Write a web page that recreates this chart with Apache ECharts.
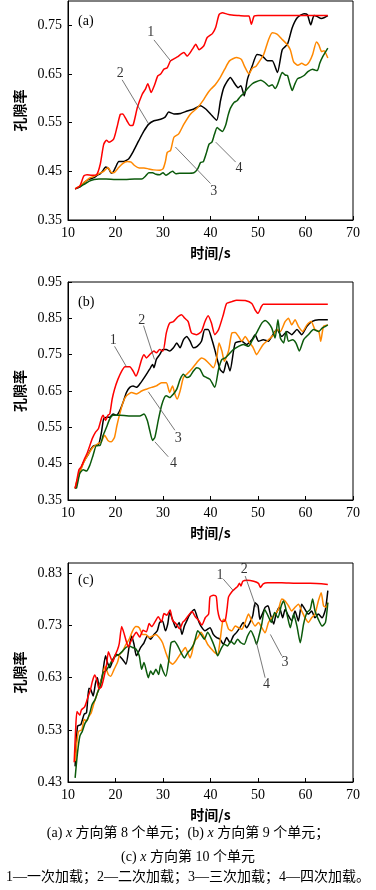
<!DOCTYPE html>
<html>
<head>
<meta charset="utf-8">
<script src="https://cdn.jsdelivr.net/npm/echarts@6/dist/echarts.min.js"></script>
<style>
  html, body { margin: 0; padding: 0; background: #fff; }
  #main { width: 376px; height: 890px; }
</style>
</head>
<body>
<div id="main"></div>
<script>
// tick values
var yTicksA = [0.35, 0.45, 0.55, 0.65, 0.75];
var yTicksB = [0.35, 0.45, 0.55, 0.65, 0.75, 0.85, 0.95];
var yTicksC = [0.43, 0.53, 0.63, 0.73, 0.83];

// (a) x 方向第 8 个单元   [time s, porosity]
var redA = [[11.5,0.414],[12.5,0.42],[13.3,0.44],[14,0.443],[15,0.442],[16,0.443],[16.8,0.465],[17.5,0.505],[18.1,0.514],[18.6,0.51],[19.6,0.516],[20.3,0.54],[21,0.567],[21.5,0.568],[22.4,0.554],[23.1,0.544],[23.7,0.545],[24.6,0.581],[25.6,0.608],[26.3,0.619],[26.8,0.63],[27.5,0.612],[28.2,0.627],[28.9,0.646],[29.5,0.65],[30.2,0.66],[30.9,0.663],[31.6,0.677],[33,0.685],[34.4,0.694],[35.1,0.687],[36.2,0.701],[36.9,0.711],[37.6,0.70],[38.6,0.708],[39.3,0.725],[40.4,0.733],[41.1,0.746],[41.8,0.772],[42.5,0.776],[43.5,0.773],[44.5,0.771],[46,0.770],[47.5,0.769],[48.1,0.769],[48.6,0.752],[49.2,0.769],[50,0.770],[52,0.770],[55,0.770],[58,0.770],[61,0.770],[64.7,0.770]];
var blackA = [[11.5,0.414],[12.5,0.418],[13.5,0.428],[14.5,0.434],[15.5,0.437],[16.2,0.442],[16.8,0.445],[17.4,0.452],[17.9,0.459],[18.6,0.455],[19.1,0.446],[19.6,0.45],[20,0.458],[20.7,0.47],[21.7,0.47],[22.8,0.476],[23.8,0.492],[24.9,0.513],[26,0.533],[27,0.547],[28.1,0.554],[29.5,0.557],[30.5,0.562],[31.2,0.572],[32.3,0.568],[33.7,0.569],[35.1,0.574],[36.5,0.578],[37.9,0.585],[39,0.578],[40,0.568],[41.3,0.555],[42.1,0.595],[42.8,0.622],[44.2,0.643],[44.9,0.633],[45.8,0.622],[46.4,0.626],[47.1,0.605],[47.8,0.64],[48.8,0.667],[49.8,0.69],[50.9,0.687],[52,0.677],[53,0.677],[54.1,0.653],[55.1,0.70],[56.2,0.711],[57.2,0.745],[58.3,0.766],[59.7,0.774],[60.4,0.772],[61.1,0.751],[61.8,0.77],[62.5,0.768],[63.3,0.764],[64,0.766],[64.7,0.77]];
var orangeA = [[11.5,0.414],[12.5,0.42],[13.5,0.428],[14.5,0.436],[15.5,0.44],[16.5,0.445],[17.5,0.45],[18.4,0.458],[19.2,0.447],[19.8,0.448],[20.5,0.456],[21.5,0.466],[22.5,0.47],[23.3,0.469],[24,0.462],[25,0.457],[26,0.457],[27,0.455],[28,0.453],[29.2,0.452],[30,0.455],[30.5,0.47],[30.9,0.489],[31.6,0.493],[32.3,0.52],[33.3,0.527],[34.4,0.547],[35.8,0.568],[37.2,0.58],[38.6,0.598],[39.5,0.612],[40.2,0.62],[41,0.628],[42,0.642],[43,0.66],[44,0.677],[45.5,0.684],[46.5,0.68],[47.2,0.665],[48.1,0.65],[48.8,0.662],[49.6,0.666],[50.3,0.676],[51.2,0.69],[52.2,0.72],[53,0.735],[54,0.732],[55,0.722],[56,0.712],[56.8,0.70],[57.5,0.675],[58.4,0.668],[59.2,0.672],[60,0.668],[60.8,0.675],[61.5,0.69],[62.3,0.716],[62.8,0.71],[63.4,0.696],[63.9,0.698],[64.7,0.683]];
var greenA = [[11.5,0.414],[12.5,0.418],[13.5,0.424],[14.5,0.43],[15.5,0.433],[16.5,0.434],[18,0.434],[20,0.433],[22,0.433],[24,0.434],[25.5,0.434],[26.3,0.44],[27,0.447],[27.8,0.447],[28.5,0.444],[29.3,0.443],[30,0.447],[30.6,0.442],[31.3,0.446],[32,0.45],[32.7,0.445],[33.5,0.446],[35,0.446],[36.5,0.447],[37.3,0.455],[37.9,0.468],[38.5,0.47],[39.2,0.49],[39.7,0.506],[40.3,0.51],[40.8,0.525],[41.4,0.54],[42,0.535],[42.5,0.532],[43.2,0.545],[43.7,0.565],[44.2,0.58],[45,0.592],[45.6,0.595],[46.3,0.604],[47,0.61],[47.8,0.62],[48.8,0.63],[49.6,0.634],[50.6,0.637],[51.5,0.632],[52.3,0.625],[53,0.628],[53.6,0.62],[54.1,0.628],[54.6,0.642],[55.1,0.653],[55.7,0.648],[56.2,0.647],[56.7,0.63],[57.2,0.616],[57.7,0.628],[58.3,0.64],[59,0.643],[59.7,0.647],[60.5,0.655],[61.5,0.66],[62,0.658],[62.5,0.657],[63,0.672],[63.6,0.685],[64.7,0.703]];

// (b) x 方向第 9 个单元
var redB = [[11.5,0.382],[11.8,0.40],[12.3,0.433],[12.8,0.442],[13.5,0.464],[14,0.478],[14.6,0.50],[15.1,0.519],[15.8,0.537],[16.4,0.546],[17,0.573],[17.4,0.583],[17.9,0.569],[18.4,0.583],[18.8,0.587],[19.3,0.628],[19.8,0.655],[20.5,0.682],[21.3,0.705],[22,0.717],[23,0.717],[23.7,0.705],[24.3,0.691],[24.8,0.705],[25.5,0.737],[26,0.75],[26.5,0.741],[27.2,0.75],[28.1,0.76],[28.6,0.755],[29.3,0.764],[30,0.76],[30.7,0.81],[31.4,0.837],[32.2,0.841],[33.2,0.855],[33.9,0.86],[34.6,0.85],[35.3,0.841],[36,0.81],[37.1,0.805],[38.1,0.814],[38.8,0.84],[39.5,0.857],[40.2,0.837],[40.9,0.805],[41.7,0.819],[42.7,0.86],[43.4,0.891],[44.5,0.896],[45.5,0.90],[47.3,0.899],[48.7,0.891],[49.4,0.873],[50,0.864],[50.7,0.882],[51.1,0.889],[55,0.889],[60,0.889],[64.7,0.889]];
var blackB = [[11.5,0.382],[11.8,0.396],[12.5,0.428],[13,0.446],[13.5,0.46],[14.2,0.474],[14.9,0.492],[15.6,0.50],[16.3,0.50],[17,0.533],[17.5,0.573],[18.1,0.578],[18.8,0.578],[19.5,0.587],[20.2,0.583],[20.9,0.596],[21.6,0.619],[22.3,0.646],[23,0.66],[23.7,0.664],[24.4,0.66],[25.1,0.669],[25.8,0.682],[26.5,0.696],[27.2,0.71],[27.8,0.723],[28.1,0.714],[28.6,0.737],[29.3,0.75],[30,0.764],[30.7,0.764],[31.4,0.76],[32.2,0.769],[32.9,0.782],[33.6,0.769],[34.3,0.791],[35,0.80],[35.7,0.787],[36.4,0.769],[37.2,0.773],[38.1,0.787],[38.8,0.819],[39.5,0.819],[40.2,0.796],[40.9,0.764],[42,0.71],[42.7,0.70],[43.4,0.732],[44.1,0.705],[45.2,0.782],[46.6,0.787],[47.6,0.778],[48.7,0.791],[49.4,0.805],[50.1,0.787],[51.1,0.791],[52.2,0.787],[52.9,0.80],[54,0.819],[55,0.80],[56.1,0.814],[57.1,0.805],[58.2,0.819],[59.2,0.805],[60.3,0.828],[61.3,0.841],[62.8,0.846],[64.7,0.846]];
var orangeB = [[11.5,0.382],[11.8,0.40],[13.2,0.45],[14.2,0.474],[15.3,0.496],[16.3,0.505],[17,0.51],[17.7,0.528],[18.4,0.514],[19.1,0.51],[19.8,0.523],[20.3,0.555],[20.9,0.587],[21.6,0.619],[22.3,0.637],[23.4,0.646],[24.4,0.642],[25.5,0.65],[26.5,0.655],[27.6,0.66],[28.6,0.664],[29.7,0.673],[30.7,0.673],[31.4,0.646],[32,0.664],[32.5,0.642],[33,0.628],[33.6,0.65],[34.3,0.687],[35,0.696],[36,0.71],[37.1,0.728],[38.1,0.741],[38.8,0.737],[39.9,0.723],[40.6,0.714],[41.3,0.741],[41.8,0.782],[42.4,0.76],[42.9,0.732],[43.8,0.76],[44.5,0.81],[45.2,0.811],[45.9,0.80],[46.6,0.787],[47.3,0.80],[48,0.787],[49,0.769],[49.7,0.75],[50.4,0.764],[51.1,0.778],[52.2,0.791],[53.3,0.805],[54,0.819],[54.7,0.814],[55.7,0.841],[56.4,0.85],[57.1,0.832],[57.8,0.846],[58.5,0.828],[59.4,0.814],[60.3,0.832],[61.2,0.841],[62,0.819],[62.8,0.814],[63.2,0.787],[63.8,0.828],[64.7,0.832]];
var greenB = [[11.5,0.382],[11.8,0.383],[12.5,0.424],[13.2,0.433],[13.9,0.43],[14.6,0.446],[15.3,0.474],[16,0.50],[16.7,0.50],[17.4,0.528],[18.1,0.55],[18.8,0.573],[19.5,0.583],[20.9,0.583],[23.7,0.581],[25.1,0.581],[26,0.587],[26.7,0.569],[27.2,0.542],[27.8,0.514],[28.3,0.523],[29,0.569],[29.7,0.61],[30.3,0.632],[30.7,0.637],[31.4,0.632],[32.2,0.642],[32.9,0.655],[33.6,0.682],[34.3,0.696],[35,0.687],[35.7,0.691],[36.4,0.705],[37.1,0.714],[37.8,0.71],[38.5,0.692],[39.2,0.687],[39.9,0.682],[40.9,0.66],[41.7,0.71],[42.4,0.737],[43.1,0.741],[43.8,0.75],[44.8,0.764],[45.9,0.773],[46.9,0.778],[48,0.773],[48.7,0.787],[49.7,0.81],[50.8,0.837],[51.5,0.844],[52.2,0.837],[52.9,0.823],[53.6,0.796],[54.2,0.846],[54.7,0.796],[55.4,0.782],[55.9,0.814],[56.4,0.787],[57.3,0.791],[58,0.782],[58.7,0.76],[59.6,0.791],[60.6,0.805],[61.7,0.819],[62.8,0.814],[63.5,0.823],[64.2,0.828],[64.7,0.832]];

// (c) x 方向第 10 个单元
var redC = [[11.3,0.468],[11.6,0.53],[11.9,0.565],[12.5,0.558],[12.8,0.568],[13.5,0.574],[13.9,0.584],[14.2,0.593],[14.7,0.606],[15.1,0.622],[15.6,0.635],[16.1,0.625],[16.5,0.609],[17,0.612],[17.5,0.628],[18.1,0.654],[18.5,0.68],[18.8,0.673],[19.4,0.66],[19.9,0.673],[20.4,0.683],[20.8,0.696],[21.3,0.728],[21.8,0.715],[22.2,0.702],[22.7,0.689],[23.2,0.699],[23.7,0.708],[24.4,0.717],[25.1,0.708],[25.8,0.721],[26.5,0.718],[27.1,0.734],[27.6,0.728],[28.3,0.737],[29,0.747],[29.7,0.737],[30.2,0.753],[30.8,0.75],[31.5,0.76],[32,0.74],[32.7,0.734],[33.5,0.724],[34.2,0.737],[34.6,0.74],[35.4,0.75],[36.1,0.757],[36.8,0.747],[37.5,0.74],[38.2,0.731],[38.9,0.745],[39.6,0.752],[39.9,0.785],[40.6,0.788],[41.2,0.786],[41.5,0.76],[41.9,0.744],[42.4,0.738],[43.1,0.74],[43.5,0.763],[43.8,0.785],[44.5,0.795],[45.2,0.801],[45.7,0.805],[46.1,0.811],[46.4,0.806],[46.8,0.815],[47.7,0.817],[49.1,0.815],[50.1,0.811],[50.5,0.803],[51.1,0.81],[52,0.812],[55,0.812],[58,0.811],[61,0.811],[64.7,0.809]];
var blackC = [[11.5,0.46],[12,0.537],[12.7,0.54],[13.4,0.56],[13.9,0.563],[14.4,0.61],[14.8,0.607],[15.3,0.595],[15.8,0.62],[16.2,0.63],[16.5,0.614],[17.2,0.633],[17.9,0.672],[18.3,0.659],[18.8,0.649],[19.4,0.662],[20.1,0.675],[20.8,0.672],[21.5,0.665],[22.2,0.656],[22.9,0.691],[23.4,0.71],[23.9,0.694],[24.4,0.672],[25.3,0.688],[26,0.697],[26.7,0.71],[27.4,0.704],[28.1,0.713],[28.8,0.72],[29.3,0.736],[29.9,0.739],[30.5,0.72],[31,0.733],[31.4,0.755],[32,0.742],[32.7,0.726],[33.4,0.736],[34,0.713],[34.5,0.729],[35,0.739],[35.5,0.749],[36.2,0.758],[36.6,0.761],[37.1,0.749],[37.6,0.736],[38.2,0.726],[38.8,0.72],[39.9,0.726],[40.6,0.713],[41.3,0.707],[42,0.704],[42.7,0.694],[43.4,0.707],[44.1,0.697],[44.8,0.71],[45.5,0.717],[46.2,0.726],[46.9,0.736],[47.6,0.726],[48.3,0.736],[48.9,0.749],[49.4,0.774],[50,0.768],[50.4,0.742],[50.9,0.752],[51.5,0.765],[52.1,0.768],[52.6,0.752],[53.3,0.733],[53.8,0.752],[54.5,0.765],[55.2,0.745],[55.7,0.761],[56.4,0.749],[57.1,0.739],[57.8,0.758],[58.5,0.739],[59.2,0.771],[59.9,0.761],[60.6,0.752],[61.3,0.758],[62,0.745],[62.7,0.752],[63.5,0.745],[64.2,0.761],[64.7,0.797]];
var orangeC = [[11.5,0.47],[11.8,0.50],[12.2,0.527],[12.9,0.53],[13.4,0.55],[13.9,0.547],[14.4,0.556],[14.9,0.563],[15.5,0.582],[16,0.595],[16.5,0.61],[17.1,0.627],[17.8,0.652],[18.5,0.636],[19,0.633],[19.7,0.646],[20.4,0.659],[20.9,0.675],[21.5,0.681],[22.2,0.694],[22.9,0.704],[23.6,0.72],[24.3,0.728],[25,0.726],[25.7,0.713],[26.4,0.713],[27.1,0.707],[27.8,0.71],[28.5,0.713],[29.2,0.707],[29.9,0.697],[30.6,0.678],[31.3,0.662],[32,0.656],[32.7,0.662],[33.4,0.672],[34.1,0.681],[34.7,0.688],[35.2,0.678],[35.7,0.668],[36.1,0.678],[36.6,0.70],[37.3,0.707],[38,0.717],[38.7,0.707],[39.4,0.694],[40.2,0.685],[40.9,0.678],[41.5,0.675],[42,0.70],[42.4,0.729],[42.7,0.742],[43.2,0.739],[43.8,0.723],[44.5,0.72],[45.2,0.729],[45.9,0.726],[46.6,0.723],[47.3,0.736],[48,0.752],[48.7,0.739],[49.4,0.729],[50.1,0.736],[50.8,0.726],[51.5,0.716],[52.2,0.736],[52.9,0.745],[53.6,0.752],[54.3,0.761],[55,0.781],[55.7,0.777],[56.4,0.768],[57.1,0.758],[57.8,0.765],[58.5,0.771],[59.2,0.758],[59.9,0.745],[60.6,0.736],[61.3,0.745],[62,0.752],[62.7,0.777],[63.3,0.793],[63.8,0.768],[64.3,0.765],[64.7,0.774]];
var greenC = [[11.5,0.438],[12,0.486],[12.5,0.518],[13,0.527],[13.6,0.543],[14.1,0.55],[14.6,0.563],[15.1,0.579],[15.7,0.588],[16.2,0.601],[16.9,0.617],[17.4,0.64],[17.9,0.643],[18.6,0.652],[19.4,0.665],[20.1,0.672],[20.8,0.675],[21.5,0.681],[22.2,0.688],[22.9,0.691],[23.6,0.688],[24.3,0.685],[25,0.672],[25.5,0.646],[26,0.659],[26.5,0.643],[26.9,0.63],[27.4,0.643],[27.9,0.636],[28.5,0.646],[29.1,0.636],[29.5,0.656],[30,0.643],[30.6,0.633],[31.2,0.662],[31.7,0.697],[32.4,0.70],[33.1,0.691],[33.8,0.678],[34.5,0.668],[35.2,0.678],[35.9,0.685],[36.6,0.697],[37.3,0.72],[38,0.713],[38.7,0.704],[39.4,0.717],[40.2,0.704],[40.9,0.688],[41.5,0.672],[42.2,0.685],[42.9,0.694],[43.6,0.691],[44.3,0.70],[45,0.694],[45.7,0.704],[46.4,0.697],[47.1,0.694],[47.8,0.71],[48.5,0.72],[49.2,0.707],[49.7,0.694],[50.2,0.71],[50.8,0.733],[51.4,0.761],[52.1,0.749],[52.8,0.736],[53.5,0.755],[54.2,0.745],[54.9,0.768],[55.4,0.777],[56.1,0.752],[56.8,0.726],[57.5,0.752],[58.2,0.729],[58.9,0.697],[59.6,0.733],[60.3,0.755],[61,0.761],[61.5,0.781],[62,0.758],[62.7,0.742],[63.5,0.729],[64.2,0.736],[64.7,0.774]];

// curve labels: [text, label t, label v, leader from t, v, leader to t, v]
var annA = [['1',27.4,0.735,28.1,0.72,31.6,0.677],['2',21.0,0.652,21.4,0.638,27.0,0.547],['3',40.7,0.408,40.0,0.425,32.6,0.50],['4',46.0,0.456,45.3,0.469,41.1,0.51]];
var annB = [['1',19.5,0.79,19.8,0.773,22.3,0.717],['2',25.5,0.845,25.9,0.83,28.2,0.737],['3',33.2,0.519,32.5,0.542,26.9,0.648],['4',32.2,0.45,31.1,0.469,28.3,0.51]];
var annC = [['1',42.0,0.826,42.7,0.819,44.8,0.797],['2',47.1,0.837,47.3,0.825,49.6,0.765],['3',55.7,0.659,55.0,0.672,52.6,0.713],['4',51.8,0.617,51.5,0.63,49.6,0.70]];

var colors = ['#ff0000', '#000000', '#ff8800', '#0b5a0b'];
var serif = '"Liberation Serif", "Times New Roman", serif';
var cjk = '"Liberation Serif", "Noto Sans CJK SC", sans-serif';

var panels = [
    { lines: [redA, blackA, orangeA, greenA], ticks: yTicksA, min: 0.35, max: 0.80, ann: annA, tag: '(a)', top: 1, height: 219, tagTop: 9 },
    { lines: [redB, blackB, orangeB, greenB], ticks: yTicksB, min: 0.35, max: 0.95, ann: annB, tag: '(b)', top: 282, height: 218, tagTop: 290 },
    { lines: [redC, blackC, orangeC, greenC], ticks: yTicksC, min: 0.43, max: 0.85, ann: annC, tag: '(c)', top: 563, height: 219, tagTop: 568 }
];

var chart = echarts.init(document.getElementById('main'), null, { renderer: 'canvas' });

var nameFont = { fontFamily: '"Noto Sans CJK SC"', fontSize: 14, fontWeight: 'bold', color: '#000' };
var grid = [], xAxis = [], yAxis = [], series = [], title = [];

panels.forEach(function (p, i) {
    grid.push({ left: 68, width: 285, top: p.top, height: p.height, show: true, borderColor: '#000', borderWidth: 1 });
    xAxis.push({
        gridIndex: i, type: 'value', min: 10, max: 70, interval: 10,
        name: '时间/s', nameLocation: 'middle', nameGap: 26, nameTextStyle: nameFont,
        axisLine: { lineStyle: { color: '#000', width: 1 } },
        axisTick: { inside: true, length: 4, lineStyle: { color: '#000' } },
        axisLabel: { margin: 6, color: '#000', fontFamily: serif, fontSize: 14 },
        splitLine: { show: false }
    });
    yAxis.push({
        gridIndex: i, type: 'value', min: p.min, max: p.max,
        name: '孔隙率', nameLocation: 'middle', nameRotate: 90, nameGap: 38, nameTextStyle: nameFont,
        axisLine: { lineStyle: { color: '#000', width: 1 } },
        axisTick: { inside: true, length: 4, customValues: p.ticks, lineStyle: { color: '#000' } },
        axisLabel: { customValues: p.ticks, margin: 6, color: '#000', fontFamily: serif, fontSize: 14,
            formatter: function (v) { return v.toFixed(2); } },
        splitLine: { show: false }
    });
    p.lines.forEach(function (d, k) {
        series.push({
            type: 'line', xAxisIndex: i, yAxisIndex: i, data: d,
            symbol: 'none', smooth: 0.2, silent: true, animation: false,
            lineStyle: { color: colors[k], width: 1.5 }, itemStyle: { color: colors[k] },
            z: k === 0 ? 3 : 2
        });
    });
    series.push({
        type: 'scatter', xAxisIndex: i, yAxisIndex: i, symbolSize: 1, silent: true, animation: false,
        itemStyle: { color: 'rgba(0,0,0,0)' },
        data: p.ann.map(function (a) { return [a[1], a[2], a[0]]; }),
        label: { show: true, position: 'inside', color: '#000', fontFamily: serif, fontSize: 14,
            formatter: function (q) { return q.value[2]; } },
        markLine: {
            silent: true, animation: false, symbol: ['none', 'none'], label: { show: false },
            lineStyle: { color: '#555', width: 0.8, type: 'solid' },
            data: p.ann.map(function (a) { return [{ coord: [a[3], a[4]] }, { coord: [a[5], a[6]] }]; })
        },
        z: 5
    });
    title.push({ text: p.tag, left: 73, top: p.tagTop, textStyle: { fontFamily: serif, fontSize: 14, fontWeight: 'normal', color: '#000' } });
});

var rich = { i: { fontStyle: 'italic', fontFamily: serif, fontSize: 14 } };
var option = {
    backgroundColor: '#fff',
    animation: false,
    title: title,
    grid: grid,
    xAxis: xAxis,
    yAxis: yAxis,
    series: series,
    graphic: [
        { type: 'text', x: 188, y: 833, style: { text: '(a) {i|x} 方向第 8 个单元；(b) {i|x} 方向第 9 个单元；', rich: rich, fontFamily: cjk, fontSize: 14, fill: '#000', align: 'center', verticalAlign: 'middle' } },
        { type: 'text', x: 188, y: 857, style: { text: '(c) {i|x} 方向第 10 个单元', rich: rich, fontFamily: cjk, fontSize: 14, fill: '#000', align: 'center', verticalAlign: 'middle' } },
        { type: 'text', x: 188, y: 877, style: { text: '1—一次加载；2—二次加载；3—三次加载；4—四次加载。', fontFamily: cjk, fontSize: 14, fill: '#000', align: 'center', verticalAlign: 'middle' } }
    ]
};

chart.setOption(option);
window.addEventListener('resize', chart.resize);
</script>
</body>
</html>
